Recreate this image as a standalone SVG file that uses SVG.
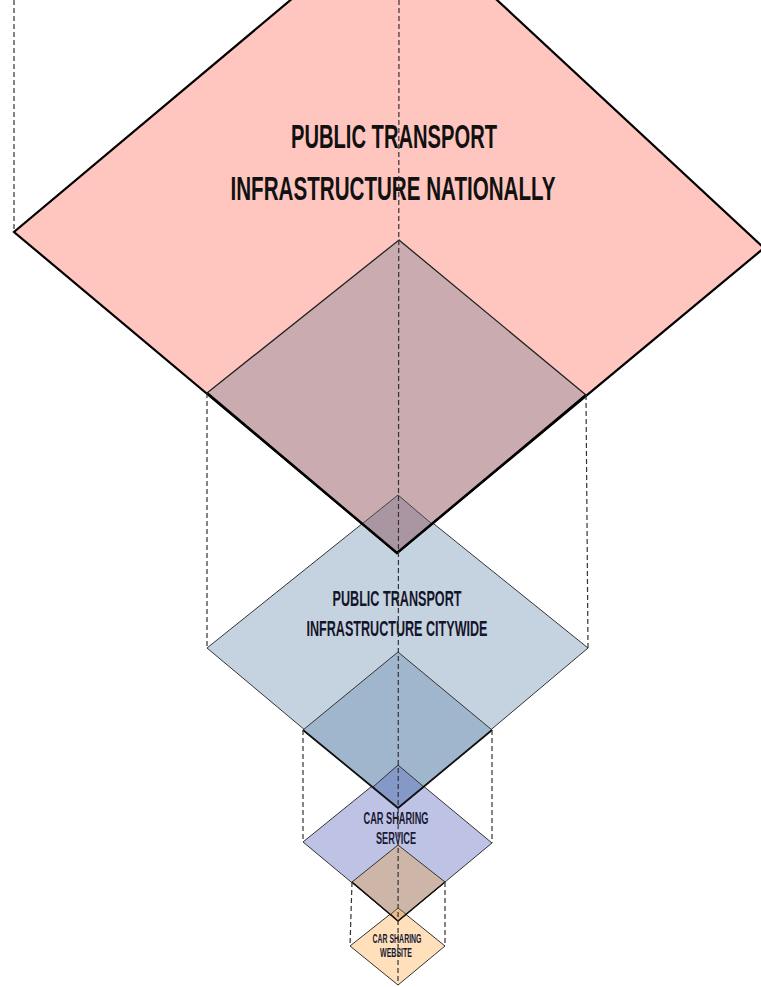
<svg xmlns="http://www.w3.org/2000/svg" width="761" height="987" viewBox="0 0 761 987">
<style>
.lbl{font-family:"Liberation Sans",Arial,sans-serif;font-weight:bold;text-anchor:middle}
.dash{stroke:#333;stroke-width:1.2;stroke-dasharray:5,3;fill:none}
.thin{stroke:#333;stroke-width:1;stroke-linejoin:miter}
</style>
<rect width="761" height="987" fill="#ffffff"/>

<g id="citywide">
<polygon points="398,495 588,648 398,808 207,648" fill="#C5D3E1" class="thin"/>
</g>

<g id="nationally">
<polygon points="399,-91 764,248 397,553 14,232" fill="#FFC6BF" stroke="#000" stroke-width="2.2"/>
<polygon points="399,240 586,395 397,553 207,393" fill="#CAABB0" stroke="#222" stroke-width="1.3"/>
<polygon points="398,495 432,524 397,553 362,524" fill="#AA96A2" stroke="#444" stroke-width="1"/>
<polyline points="207,393 397,553 586,395" fill="none" stroke="#000" stroke-width="2.4"/>
<text class="lbl" x="394" y="148" font-size="33" fill="#111" textLength="206" lengthAdjust="spacingAndGlyphs">PUBLIC TRANSPORT</text>
<text class="lbl" x="393" y="200" font-size="33" fill="#111" textLength="325" lengthAdjust="spacingAndGlyphs">INFRASTRUCTURE NATIONALLY</text>
</g>

<g id="service">
<polygon points="398,765 492,843 398,921 303,842" fill="#BEC3E6" class="thin"/>
</g>

<g id="citywide-inner">
<polygon points="398,652 492,730 398,808 303,730" fill="#A0B6CD" class="thin"/>
<polygon points="398,765 424,787 398,808 373,787" fill="#8599C8" stroke="#333" stroke-width="1"/>
<polyline points="303,730 398,808 492,730" fill="none" stroke="#111" stroke-width="1.8"/>
<text class="lbl" x="397" y="606" font-size="22" fill="#15152a" textLength="129" lengthAdjust="spacingAndGlyphs">PUBLIC TRANSPORT</text>
<text class="lbl" x="397" y="636" font-size="22" fill="#15152a" textLength="181" lengthAdjust="spacingAndGlyphs">INFRASTRUCTURE CITYWIDE</text>
</g>

<g id="website">
<polygon points="398,908 445,946 398,985 350,946" fill="#FFE0BA" class="thin"/>
</g>

<g id="service-inner">
<polygon points="398,845 445,882 398,921 352,882" fill="#CDB6A8" class="thin"/>
<polygon points="398,908 406,914 398,921 391,914" fill="#E9BB88" stroke="#333" stroke-width="0.8"/>
<polyline points="352,882 398,921 445,882" fill="none" stroke="#111" stroke-width="1.5"/>
<text class="lbl" x="396" y="824" font-size="16" fill="#1a1a35" textLength="65" lengthAdjust="spacingAndGlyphs">CAR SHARING</text>
<text class="lbl" x="396" y="844" font-size="16" fill="#1a1a35" textLength="40" lengthAdjust="spacingAndGlyphs">SERVICE</text>
<text class="lbl" x="397" y="943" font-size="12" fill="#1a1a35" textLength="49" lengthAdjust="spacingAndGlyphs">CAR SHARING</text>
<text class="lbl" x="396" y="957" font-size="12" fill="#1a1a35" textLength="32" lengthAdjust="spacingAndGlyphs">WEBSITE</text>
</g>

<g id="connectors">
<line class="dash" x1="14" y1="0" x2="14" y2="232"/>
<line class="dash" x1="399" y1="0" x2="398" y2="985"/>
<line class="dash" x1="207" y1="393" x2="207" y2="648"/>
<line class="dash" x1="586" y1="395" x2="588" y2="648"/>
<line class="dash" x1="303" y1="730" x2="303" y2="842"/>
<line class="dash" x1="492" y1="730" x2="492" y2="843"/>
<line class="dash" x1="352" y1="882" x2="350" y2="946"/>
<line class="dash" x1="445" y1="882" x2="445" y2="946"/>
</g>
</svg>
